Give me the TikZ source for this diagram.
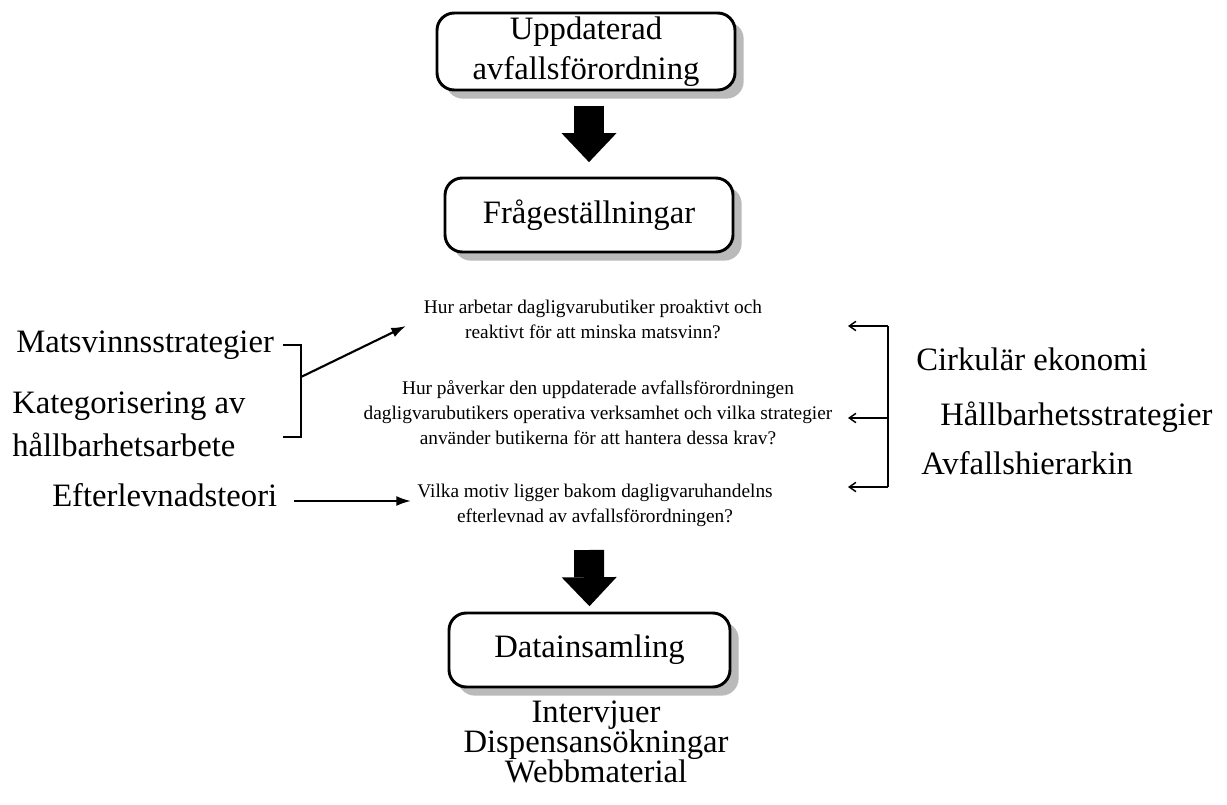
\documentclass[tikz,border=0pt]{standalone}
\usepackage{fontspec}
\setmainfont{Liberation Serif}
\usetikzlibrary{arrows.meta,shadows,calc}
\tikzset{
  bigtext/.style={font=\fontsize{24.5pt}{30pt}\selectfont, inner sep=0pt},
  smalltext/.style={font=\fontsize{14.5pt}{18.75pt}\selectfont, align=center, inner sep=0pt},
  flowbox/.style={draw=black, line width=2.2pt, rounded corners=13pt, fill=white,
    drop shadow={shadow xshift=6.5pt, shadow yshift=-6.5pt, fill=black!27, opacity=1},
    font=\fontsize{24.5pt}{30pt}\selectfont, align=center, inner sep=0pt},
  blockarrow/.style={line width=22.5pt, -{Triangle[width=41.25pt,length=21.75pt,line width=0pt]}},
  leftarrow/.style={line width=1.6pt, -{Latex[length=11pt,width=7.5pt]}},
  bracketline/.style={line width=1.6pt},
  rightarrow/.style={line width=1.1pt, -{Straight Barb[length=5pt,width=7pt,line width=1.1pt]}},
}
\begin{document}
\begin{tikzpicture}[x=0.75pt,y=-0.75pt]
\useasboundingbox (0,0) rectangle (1227,805);

% boxes
\node[flowbox, minimum width=223.5pt, minimum height=57.75pt] (b1) at (586,51.5) {Uppdaterad\\avfallsförordning};
\node[flowbox, minimum width=216pt, minimum height=55.5pt] (b2) at (589,215) {Frågeställningar};
\node[flowbox, minimum width=210.75pt, minimum height=55.5pt] (b3) at (589.5,650) {Datainsamling};

% questions
\node[smalltext] (q1) at (593,319) {Hur arbetar dagligvarubutiker proaktivt och\\reaktivt för att minska matsvinn?};
\node[smalltext] (q2) at (598,413) {Hur påverkar den uppdaterade avfallsförordningen\\dagligvarubutikers operativa verksamhet och vilka strategier\\använder butikerna för att hantera dessa krav?};
\node[smalltext] (q3) at (595,505) {Vilka motiv ligger bakom dagligvaruhandelns\\efterlevnad av avfallsförordningen?};

% left labels
\node[bigtext, anchor=west] (m1) at (16,345) {Matsvinnsstrategier};
\node[bigtext, anchor=west, align=left, font=\fontsize{24.5pt}{32.25pt}\selectfont] (m2) at (12,424) {Kategorisering av\\hållbarhetsarbete};
\node[bigtext, anchor=west] (m3) at (52,495) {Efterlevnadsteori};

% right labels
\node[bigtext, anchor=west] (r1) at (916,359) {Cirkulär ekonomi};
\node[bigtext, anchor=west] (r2) at (940,417) {Hållbarhetsstrategier};
\node[bigtext, anchor=west] (r3) at (921,463) {Avfallshierarkin};

% bottom list
\node[bigtext, align=center, font=\fontsize{24.5pt}{22.5pt}\selectfont] (list) at (596,742) {Intervjuer\\Dispensansökningar\\Webbmaterial};

% block arrows
\coordinate (a1s) at (589,106);
\coordinate (a2s) at (589,550);
\draw[blockarrow, shorten >=10.8pt] (a1s) -- (b2.north);
\draw[blockarrow, shorten >=4pt] (a2s) -- (b3.north);

% left bracket and arrows
\coordinate (lbt) at (283,345);
\coordinate (lbb) at (283,437);
\coordinate (lbm) at (301,377);
\coordinate (q1in) at (406,326);
\draw[bracketline] (lbt) -| (lbm |- lbb) -- (lbb);
\draw[leftarrow] (lbm) -- (q1in);
\coordinate (e1) at (294,501);
\coordinate (e2) at (411,501);
\draw[leftarrow] (e1) -- (e2);

% right bracket and arrows
\coordinate (rb1) at (888,326);
\coordinate (rb2) at (888,418);
\coordinate (rb3) at (888,487);
\draw[line width=1.1pt] (rb1) -- (rb3);
\draw[rightarrow] (rb1) -- ++(-40,0) coordinate (rt1);
\draw[rightarrow] (rb2) -- ++(-40,0) coordinate (rt2);
\draw[rightarrow] (rb3) -- ++(-40,0) coordinate (rt3);
\end{tikzpicture}
\end{document}
